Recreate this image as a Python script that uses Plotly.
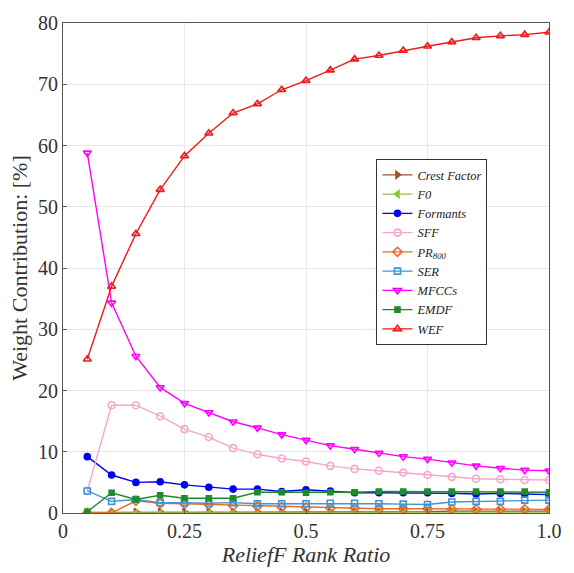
import plotly.graph_objects as go

x = [0.05, 0.10, 0.15, 0.20, 0.25, 0.30, 0.35, 0.40, 0.45, 0.50,
     0.55, 0.60, 0.65, 0.70, 0.75, 0.80, 0.85, 0.90, 0.95, 1.00]

crest_factor = [0.1, 0.1, 0.2, 0.2, 0.2, 0.2, 0.2, 0.2, 0.2, 0.2,
                0.2, 0.2, 0.2, 0.2, 0.2, 0.3, 0.3, 0.3, 0.3, 0.3]
f0 = [0.0, 0.0, 0.0, 0.0, 0.0, 0.0, 0.0, 0.0, 0.0, 0.0,
      0.0, 0.0, 0.0, 0.0, 0.0, 0.0, 0.0, 0.0, 0.0, 0.0]
formants = [9.2, 6.2, 5.0, 5.1, 4.6, 4.2, 3.9, 3.9, 3.5, 3.8,
            3.6, 3.3, 3.3, 3.3, 3.3, 3.2, 3.1, 3.2, 3.1, 3.0]
sff = [3.6, 17.6, 17.6, 15.8, 13.7, 12.4, 10.6, 9.6, 8.9, 8.4,
       7.7, 7.2, 6.9, 6.6, 6.2, 5.9, 5.6, 5.5, 5.4, 5.4]
pr800 = [0.0, 0.0, 2.0, 1.6, 1.5, 1.4, 1.2, 1.1, 1.0, 0.9,
         0.8, 0.8, 0.7, 0.7, 0.7, 0.6, 0.6, 0.6, 0.6, 0.6]
ser = [3.6, 1.9, 2.2, 1.7, 1.7, 1.6, 1.7, 1.5, 1.5, 1.5,
       1.6, 1.6, 1.5, 1.45, 1.4, 1.8, 1.9, 1.9, 2.1, 2.1]
mfccs = [58.8, 34.3, 25.6, 20.5, 17.9, 16.4, 14.9, 13.9, 12.8, 11.9,
         11.0, 10.4, 9.8, 9.2, 8.8, 8.2, 7.7, 7.3, 7.0, 6.9]
emdf = [0.2, 3.3, 2.2, 2.9, 2.4, 2.4, 2.4, 3.4, 3.4, 3.3,
        3.4, 3.4, 3.5, 3.5, 3.5, 3.5, 3.5, 3.5, 3.5, 3.4]
wef = [25.1, 37.0, 45.6, 52.8, 58.3, 62.0, 65.3, 66.8, 69.1, 70.6,
       72.3, 74.1, 74.7, 75.5, 76.2, 76.9, 77.6, 77.9, 78.1, 78.5]

names = ["Crest Factor", "F0", "Formants", "SFF", "PR<sub>800</sub>",
         "SER", "MFCCs", "EMDF", "WEF"]
series = [crest_factor, f0, formants, sff, pr800, ser, mfccs, emdf, wef]
colors = ["#A0522D", "#8CC43C", "#0000F0", "#F4A6CC", "#EE6A24",
          "#3E94D4", "#FF00FF", "#1E8C2A", "#F01818"]
symbols = ["triangle-right", "triangle-left", "circle", "circle-open", "diamond-open",
           "square-open", "triangle-down-open", "square", "triangle-up-open"]
sizes = [6, 6, 6, 7, 7, 6, 7, 5, 7]

fig = go.Figure()
for n, s, c, sym, sz in zip(names, series, colors, symbols, sizes):
    fig.add_trace(go.Scatter(
        x=x, y=s, mode="lines+markers", name="<i>" + n + "</i>",
        line=dict(color=c, width=1.4),
        marker=dict(symbol=sym, size=sz, color=c,
                    line=dict(color=c, width=1.6)),
    ))

font_family = "Times New Roman"
fig.update_layout(
    width=574, height=573,
    margin=dict(l=63, r=12, t=15, b=60),
    paper_bgcolor="white", plot_bgcolor="white",
    font=dict(family=font_family, size=20, color="#333333"),
    showlegend=True,
    legend=dict(
        x=0.645, y=0.722, xanchor="left", yanchor="top",
        bgcolor="white", bordercolor="#333333", borderwidth=1,
        font=dict(family=font_family, size=12.5, color="#222222"),
        tracegroupgap=0, itemwidth=30,
    ),
    xaxis=dict(
        range=[0, 1], tickvals=[0, 0.25, 0.5, 0.75, 1.0],
        ticktext=["0", "0.25", "0.5", "0.75", "1.0"],
        showgrid=True, gridcolor="#E8E8E8", gridwidth=1,
        showline=True, linecolor="#555555", linewidth=1, mirror=True,
        ticks="inside", ticklen=4, tickcolor="#555555",
        zeroline=False,
        title=dict(text="<i>ReliefF Rank Ratio</i>", font=dict(size=22), standoff=4),
    ),
    yaxis=dict(
        range=[0, 80], tickvals=[0, 10, 20, 30, 40, 50, 60, 70, 80],
        showgrid=True, gridcolor="#E8E8E8", gridwidth=1,
        showline=True, linecolor="#555555", linewidth=1, mirror=True,
        ticks="inside", ticklen=4, tickcolor="#555555",
        zeroline=False,
        title=dict(text="Weight Contribution: [%]", font=dict(size=22), standoff=4),
    ),
)

fig.write_html("out.html")
